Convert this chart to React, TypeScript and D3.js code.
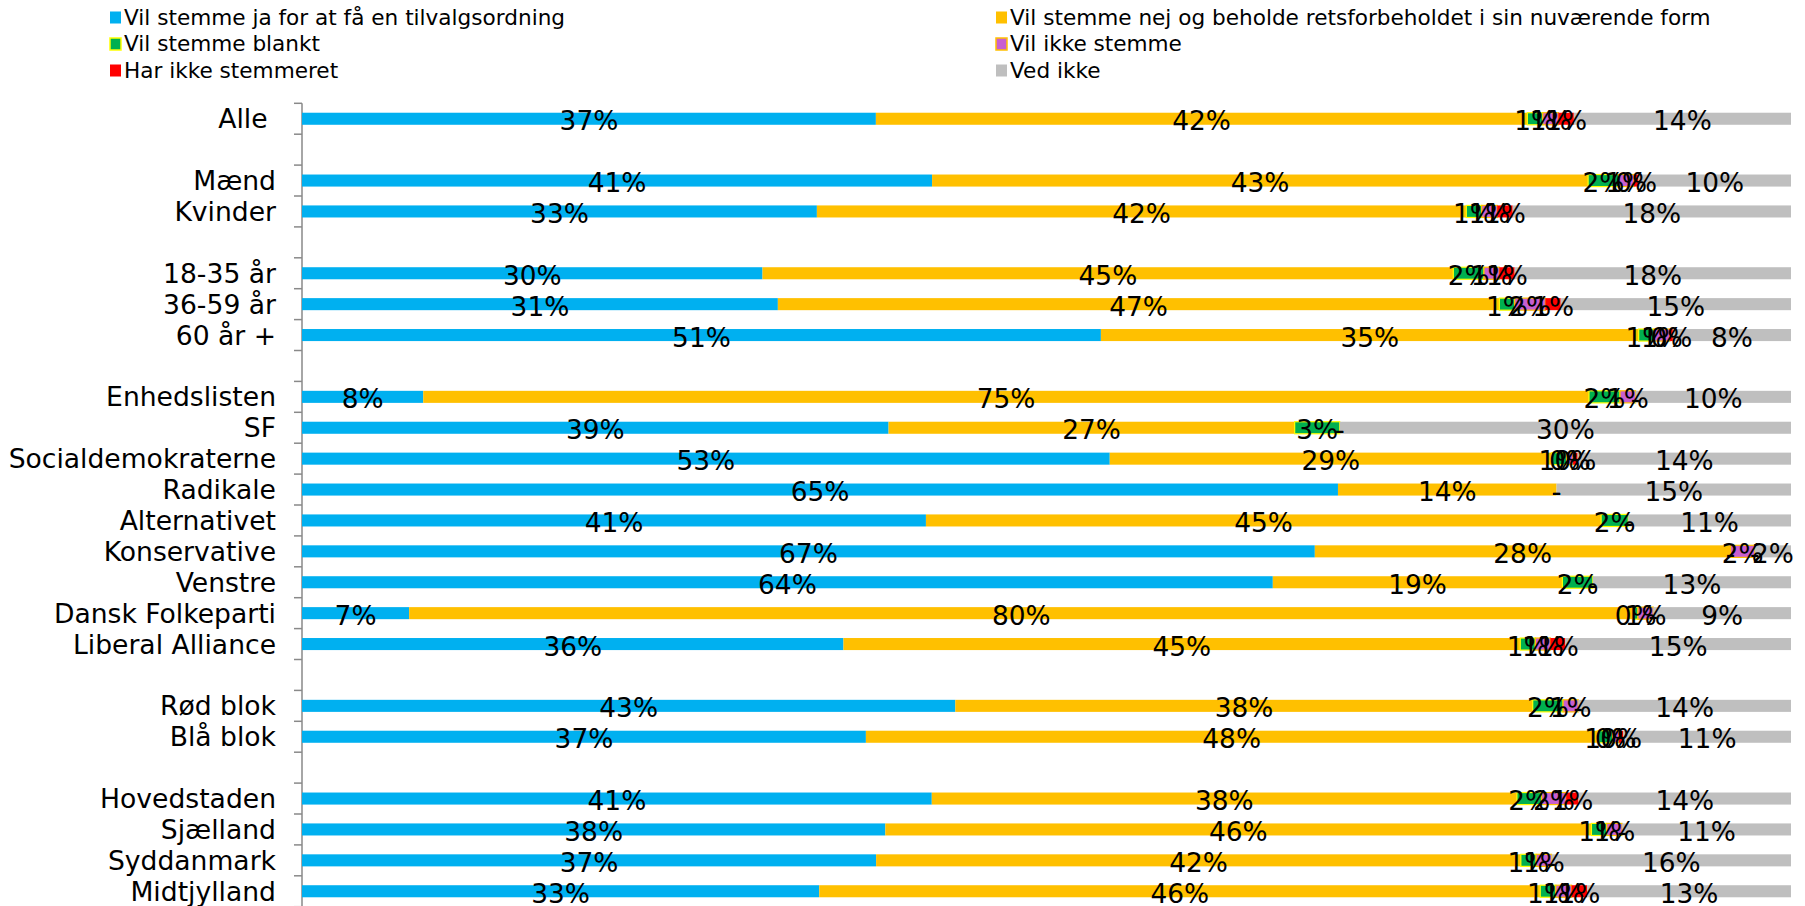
import React from 'react';
import * as d3 from 'd3';

// rows of the chart, '' = empty spacer row
const ROW_LABELS = [
  'Alle ', '', 'Mænd', 'Kvinder', '', '18-35 år', '36-59 år', '60 år +', '',
  'Enhedslisten', 'SF', 'Socialdemokraterne', 'Radikale', 'Alternativet',
  'Konservative', 'Venstre', 'Dansk Folkeparti', 'Liberal Alliance', '',
  'Rød blok', 'Blå blok', '', 'Hovedstaden', 'Sjælland', 'Syddanmark', 'Midtjylland',
];

const SERIES_NAMES = [
  'Vil stemme ja for at få en tilvalgsordning',
  'Vil stemme nej og beholde retsforbeholdet i sin nuværende form',
  'Vil stemme blankt',
  'Vil ikke stemme',
  'Har ikke stemmeret',
  'Ved ikke',
];
const SERIES_KEYS = ['ja', 'nej', 'blankt', 'ikke', 'harIkke', 'vedIkke'];
const SERIES_FILL = ['#00B0F0', '#FFC000', '#00B050', '#C85FD0', '#FF0000', '#BFBFBF'];
const SERIES_STROKE = ['none', 'none', '#FFFF00', '#FFC000', 'none', 'none'];

// survey shares in %, null for spacer rows
const ja = [37, null, 41.3, 33.3, null, 30, 31, 51.4, null, 7.8, 39, 53, 65.4, 41.4, 67, 63.7, 7, 36, null, 43, 37, null, 40.9, 38, 37.4, 33];
const nej = [42, null, 43, 42, null, 45, 47, 34.6, null, 75, 27, 29, 13.8, 44.8, 27.5, 19, 80, 45, null, 38, 48, null, 38, 46, 42, 46];
const blankt = [1, null, 2, 1, null, 2, 1, 1, null, 2, 3, 1, 0, 1.8, 0, 2, 0.3, 1, null, 2, 1, null, 1.6, 1, 1, 1];
const ikke = [1, null, 1, 1, null, 1, 2, 1, null, 1, 0, 0.4, 0, 0, 1.6, 0, 1, 1, null, 1, 0.4, null, 1.6, 1, 1, 1];
const harIkke = [1, null, 0.3, 1, null, 1, 1, 0.2, null, 0, 0, 0.3, 0, 0, 0, 0, 0, 1, null, 0, 0.3, null, 0.8, 0, 0, 1];
const vedIkke = [14, null, 10, 18, null, 18, 15, 7.6, null, 10, 30, 14, 14.8, 10.8, 2.4, 13, 9, 15, null, 14, 11, null, 13.8, 11, 15.6, 13];

const W = 1805;
const H = 906;
const FONT = "'DejaVu Sans', Verdana, sans-serif";

export default function App() {
  const rows = ROW_LABELS.map((label, i) => ({
    id: String(i),
    label,
    ja: ja[i],
    nej: nej[i],
    blankt: blankt[i],
    ikke: ikke[i],
    harIkke: harIkke[i],
    vedIkke: vedIkke[i],
  }));
  const filled = rows.filter(r => r.label !== '');

  const x = d3.scaleLinear().domain([0, 1]).range([302, 1791]);
  const y = d3.scaleBand<string>()
    .domain(rows.map(r => r.id))
    .range([103.3, 906.7])
    .paddingInner(0.61)
    .paddingOuter(0.305);

  const stacked = d3.stack<any>()
    .keys(SERIES_KEYS)
    .offset(d3.stackOffsetExpand)(filled);

  const gap = (y.step() - y.bandwidth()) / 2;
  const tickYs = rows.map(r => (y(r.id) as number) - gap);
  tickYs.push((y(rows[rows.length - 1].id) as number) + y.bandwidth() + gap);

  return (
    <svg width={W} height={H} style={{ position: 'absolute', left: 0, top: 0 }} fontFamily={FONT}>
      <rect width={W} height={H} fill="#fff" />

      {/* legend */}
      {SERIES_NAMES.map((name, i) => {
        const lx = i % 2 === 0 ? 110 : 996;
        const cy = 17.5 + Math.floor(i / 2) * 26.5;
        return (
          <g key={name}>
            <rect x={lx} y={cy - 6} width={11} height={12}
              fill={SERIES_FILL[i]}
              stroke={SERIES_STROKE[i]} strokeWidth={1.5} />
            <text x={lx + 14} y={cy + 7} fontSize={21.6} fill="#000">{name}</text>
          </g>
        );
      })}

      {/* axis */}
      <line x1={302} x2={302} y1={tickYs[0]} y2={H} stroke="#898989" strokeWidth={1.5} />
      {tickYs.map((ty, i) => (
        <line key={i} x1={294} x2={302} y1={ty} y2={ty} stroke="#898989" strokeWidth={1.5} />
      ))}
      {filled.map(r => (
        <text key={r.id} x={276} y={(y(r.id) as number) + y.bandwidth() / 2 + 9.5}
          textAnchor="end" fontSize={26.6} fill="#000" style={{ whiteSpace: 'pre' }}>
          {r.label}
        </text>
      ))}

      {/* bars */}
      {stacked.map((layer, si) => (
        <g key={layer.key}>
          {layer.map(d => (
            <rect key={d.data.id}
              x={x(d[0])} y={y(d.data.id)}
              width={Math.max(0, x(d[1]) - x(d[0]))} height={y.bandwidth()}
              fill={SERIES_FILL[si]}
              stroke={SERIES_STROKE[si]} strokeWidth={1.2} />
          ))}
        </g>
      ))}

      {/* data labels */}
      {stacked.map(layer => (
        <g key={layer.key}>
          {layer.map(d => {
            const v = d.data[layer.key] as number;
            return (
              <text key={d.data.id}
                x={(x(d[0]) + x(d[1])) / 2}
                y={(y(d.data.id) as number) + y.bandwidth() / 2 + 11.5}
                textAnchor="middle" fontSize={26.4} fill="#000">
                {v === 0 ? '-' : `${Math.round(v)}%`}
              </text>
            );
          })}
        </g>
      ))}
    </svg>
  );
}
